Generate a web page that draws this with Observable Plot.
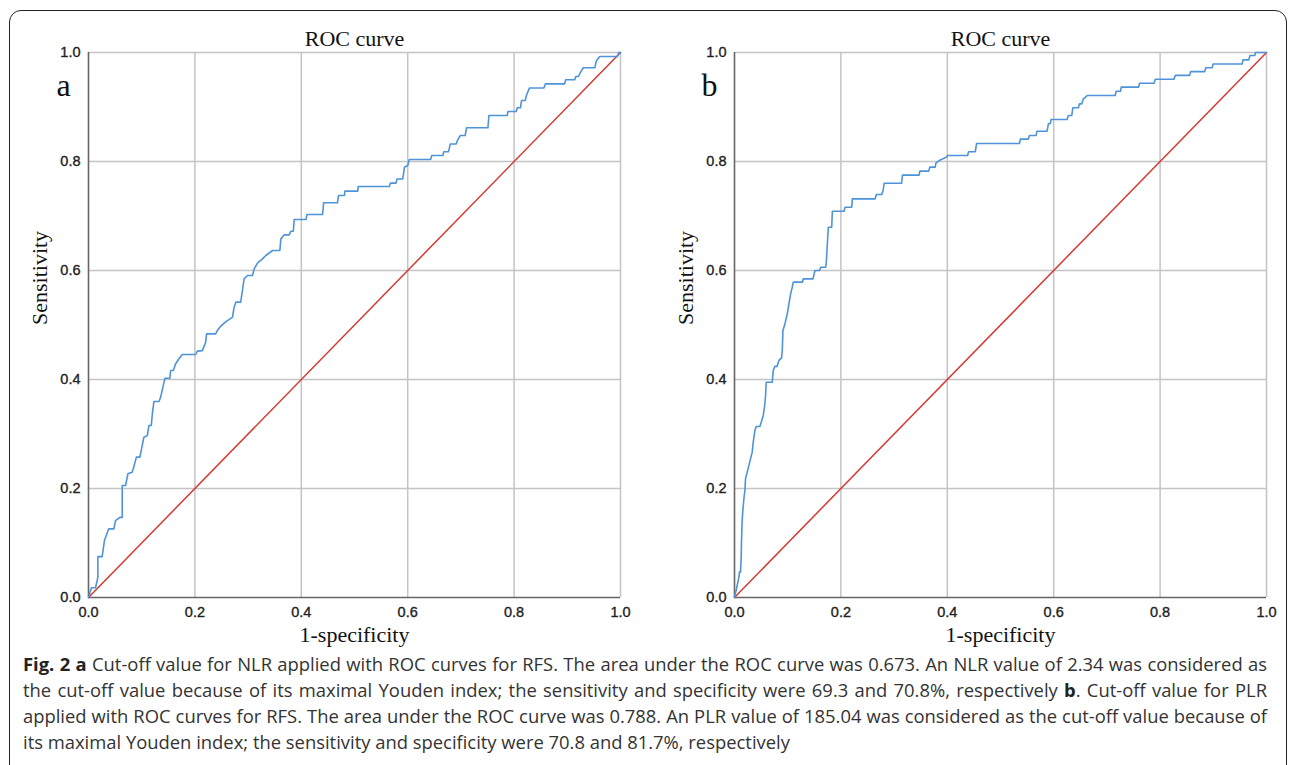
<!DOCTYPE html>
<html>
<head>
<meta charset="utf-8">
<script src="https://cdn.jsdelivr.net/npm/d3@7"></script>
<script src="https://cdn.jsdelivr.net/npm/@observablehq/plot@0.6"></script>
<style>
  html, body { margin: 0; padding: 0; background: #fff; }
  body { width: 1293px; height: 765px; position: relative; overflow: hidden; }
  #frame { position: absolute; left: 9px; top: 10px; width: 1278px; height: 820px;
           border: 1.5px solid #222; border-radius: 12px; box-sizing: border-box; }
  .panel { position: absolute; top: 0; }
  .panel svg g[aria-label*="tick label"] text { stroke: #222; stroke-width: 0.35px; }
  #caption { position: absolute; left: 23px; top: 651px; width: 1244px;
             font-family: "Open Sans", sans-serif; font-size: 17px; line-height: 26px; color: #333; }
  #caption div { white-space: nowrap; }
  #caption .j { text-align: justify; text-align-last: justify; }
  #caption span.m { position: absolute; visibility: hidden; white-space: nowrap; }
  b { font-weight: 700; color: #222; }
</style>
</head>
<body>
<div id="frame"></div>
<div id="pa" class="panel" style="left:0px"></div>
<div id="pb" class="panel" style="left:646px"></div>
<div id="caption">
  <div class="j"><b>Fig. 2 a</b> Cut-off value for NLR applied with ROC curves for RFS. The area under the ROC curve was 0.673. An NLR value of 2.34 was considered as</div>
  <div class="j">the cut-off value because of its maximal Youden index; the sensitivity and specificity were 69.3 and 70.8%, respectively <b>b</b>. Cut-off value for PLR</div>
  <div class="j">applied with ROC curves for RFS. The area under the ROC curve was 0.788. An PLR value of 185.04 was considered as the cut-off value because of</div>
  <div>its maximal Youden index; the sensitivity and specificity were 70.8 and 81.7%, respectively</div>
</div>
<script>
const axisTicks = [0, 0.2, 0.4, 0.6, 0.8, 1.0];
const gridTicks = [0.2, 0.4, 0.6, 0.8, 1.0];
const diagX = [0, 1];
const diagY = [0, 1];

const fprA = [0,0.0006,0.0056,0.0132,0.0176,0.0176,0.0257,0.030,0.038,0.0477,0.0508,0.059,0.0634,0.0634,0.0697,0.074,0.082,0.085,0.090,0.0967,0.0998,0.104,0.1105,0.1136,0.118,0.12,0.123,0.1324,0.1356,0.1387,0.1437,0.153,0.1544,0.1594,0.1638,0.170,0.1764,0.2015,0.2046,0.214,0.2203,0.222,0.239,0.2423,0.247,0.2549,0.261,0.2706,0.2737,0.277,0.286,0.2894,0.2925,0.2988,0.3083,0.3114,0.3176,0.327,0.3333,0.346,0.3597,0.3616,0.368,0.3773,0.3804,0.385,0.3867,0.4087,0.4106,0.440,0.442,0.468,0.470,0.481,0.482,0.506,0.507,0.5656,0.5675,0.578,0.580,0.5907,0.594,0.600,0.603,0.643,0.6453,0.666,0.668,0.6767,0.680,0.691,0.694,0.699,0.708,0.7106,0.7508,0.7527,0.787,0.7885,0.804,0.806,0.812,0.814,0.821,0.823,0.829,0.856,0.8588,0.895,0.897,0.914,0.916,0.921,0.925,0.930,0.9516,0.9548,0.961,0.9944,0.9968,1];
const tprA = [0,0.0024,0.0178,0.0178,0.037,0.075,0.075,0.1046,0.126,0.126,0.141,0.147,0.147,0.2055,0.2055,0.227,0.230,0.239,0.2575,0.2575,0.273,0.294,0.297,0.3156,0.3156,0.337,0.3596,0.3596,0.3676,0.381,0.4024,0.4024,0.4165,0.4165,0.4288,0.438,0.4459,0.4459,0.452,0.453,0.4685,0.4838,0.4838,0.490,0.496,0.5034,0.508,0.514,0.5327,0.5419,0.5419,0.5633,0.5847,0.5908,0.5908,0.603,0.6134,0.6214,0.6275,0.6367,0.6367,0.658,0.6654,0.6654,0.672,0.672,0.6936,0.6936,0.7028,0.7028,0.7242,0.7242,0.7376,0.7376,0.7456,0.7456,0.754,0.754,0.7603,0.7603,0.768,0.768,0.7896,0.7927,0.8037,0.8037,0.811,0.811,0.818,0.818,0.832,0.832,0.8398,0.8477,0.8477,0.8618,0.8618,0.8844,0.8844,0.8917,0.8917,0.8985,0.8985,0.912,0.912,0.921,0.935,0.935,0.9425,0.9425,0.95,0.95,0.956,0.956,0.964,0.972,0.972,0.985,0.9927,0.9927,1,1];

const fprB = [0,0,0.0031,0.0056,0.0082,0.0094,0.0113,0.0126,0.0132,0.0144,0.0157,0.0176,0.0195,0.0207,0.0239,0.027,0.0301,0.0333,0.0352,0.0383,0.0408,0.0477,0.0508,0.054,0.0565,0.0584,0.0596,0.071,0.0728,0.0759,0.080,0.0835,0.0885,0.0898,0.091,0.0948,0.0992,0.1023,0.1055,0.1086,0.1105,0.1275,0.1293,0.1475,0.1513,0.160,0.162,0.1714,0.1726,0.1745,0.1764,0.1827,0.184,0.2059,0.2078,0.2203,0.2216,0.2643,0.2668,0.2768,0.2793,0.2812,0.314,0.3158,0.347,0.3484,0.3648,0.3672,0.3773,0.3785,0.3848,0.3987,0.4005,0.4382,0.440,0.4526,0.455,0.5355,0.5374,0.5524,0.5543,0.5669,0.5687,0.5876,0.590,0.5938,0.595,0.625,0.6277,0.634,0.636,0.6465,0.6484,0.6529,0.6554,0.6629,0.7156,0.7175,0.7257,0.727,0.7596,0.7615,0.7885,0.791,0.826,0.8286,0.8556,0.8575,0.8839,0.8858,0.8977,0.8996,0.954,0.956,0.9667,0.969,0.978,0.979,1];
const tprB = [0,0.0024,0.0128,0.025,0.037,0.0465,0.0465,0.074,0.1046,0.141,0.1596,0.181,0.1963,0.2177,0.23,0.242,0.2544,0.2667,0.285,0.3064,0.3138,0.3138,0.3235,0.334,0.3505,0.3706,0.395,0.395,0.4165,0.424,0.424,0.435,0.4398,0.453,0.490,0.502,0.5205,0.5388,0.557,0.5694,0.5786,0.5786,0.5847,0.5847,0.600,0.600,0.606,0.606,0.6153,0.649,0.6794,0.6794,0.7088,0.7088,0.716,0.716,0.7315,0.7315,0.7394,0.7394,0.7468,0.760,0.760,0.775,0.775,0.7823,0.7823,0.7896,0.7896,0.797,0.8018,0.808,0.811,0.811,0.818,0.818,0.833,0.833,0.841,0.841,0.8477,0.8477,0.8556,0.8556,0.869,0.870,0.877,0.877,0.8844,0.8844,0.8985,0.8985,0.9058,0.9058,0.9143,0.921,0.921,0.929,0.929,0.9364,0.9364,0.9437,0.9437,0.951,0.951,0.958,0.958,0.965,0.965,0.972,0.972,0.979,0.979,0.9865,0.9865,0.9945,0.9945,1,1];

const panels = [
  {id: "pa", letter: "a", fpr: fprA, tpr: tprA},
  {id: "pb", letter: "b", fpr: fprB, tpr: tprB}
];

const serif = "Liberation Serif, Times New Roman, serif";

for (const p of panels) {
  const roc = p.fpr.map((x, i) => ({x, y: p.tpr[i]}));
  const diag = diagX.map((x, i) => ({x, y: diagY[i]}));
  const chart = Plot.plot({
    width: 640,
    height: 647,
    marginLeft: 88,
    marginRight: 20,
    marginTop: 52,
    marginBottom: 50,
    style: {fontFamily: "Liberation Sans, Arial, sans-serif", fontSize: "14.5px", background: "transparent", overflow: "visible"},
    x: {domain: [0, 1]},
    y: {domain: [0, 1]},
    marks: [
      Plot.gridX(gridTicks, {stroke: "#c4c4c4", strokeOpacity: 1, strokeWidth: 1.5}),
      Plot.gridY(gridTicks, {stroke: "#c4c4c4", strokeOpacity: 1, strokeWidth: 1.5}),
      Plot.ruleX([0], {stroke: "#666", strokeWidth: 1.6}),
      Plot.ruleY([0], {stroke: "#666", strokeWidth: 1.6}),
      Plot.axisX({ticks: axisTicks, tickFormat: d3.format(".1f"), tickSize: 0, tickPadding: 9, fill: "#222", label: null}),
      Plot.axisY({ticks: axisTicks, tickFormat: d3.format(".1f"), tickSize: 0, tickPadding: 8, fill: "#222", label: null}),
      Plot.line(diag, {x: "x", y: "y", stroke: "#d63a32", strokeWidth: 1.5}),
      Plot.line(roc, {x: "x", y: "y", stroke: "#4f93d8", strokeWidth: 1.6}),
      Plot.text(["ROC curve"], {frameAnchor: "top", lineAnchor: "middle", dy: -14, fontSize: 22, fontFamily: serif, fill: "#111"}),
      Plot.text([p.letter], {frameAnchor: "top-left", lineAnchor: "middle", textAnchor: "middle", dx: -25, dy: 33, fontSize: 32, fontFamily: serif, fill: "#111"}),
      Plot.text(["1-specificity"], {frameAnchor: "bottom", lineAnchor: "middle", dy: 37, fontSize: 22, fontFamily: serif, fill: "#111"}),
      Plot.text(["Sensitivity"], {frameAnchor: "left", lineAnchor: "middle", rotate: -90, dx: -49, fontSize: 22, fontFamily: serif, fill: "#111"})
    ]
  });
  document.getElementById(p.id).appendChild(chart);
}

// fit caption font so the justified lines fill the width with natural spacing
(function fitCaption() {
  const cap = document.getElementById("caption");
  const lines = Array.from(cap.querySelectorAll("div.j"));
  const probe = document.createElement("span");
  probe.className = "m";
  cap.appendChild(probe);
  let best = 15;
  for (let fs = 19; fs >= 15; fs -= 0.1) {
    cap.style.fontSize = fs + "px";
    let maxW = 0;
    for (const l of lines) {
      probe.innerHTML = l.innerHTML;
      maxW = Math.max(maxW, probe.getBoundingClientRect().width);
    }
    if (maxW <= 1240) { best = fs; break; }
  }
  cap.style.fontSize = best + "px";
  probe.remove();
})();
</script>
</body>
</html>
